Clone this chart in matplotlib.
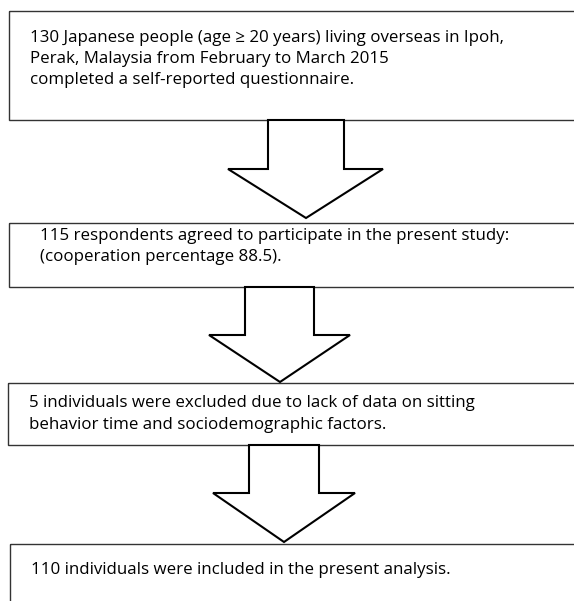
import matplotlib.pyplot as plt
from matplotlib.patches import Rectangle, Polygon

# box texts (one list per box, one entry per line)
box1_lines = ["130 Japanese people (age \u2265 20 years) living overseas in Ipoh,",
              "Perak, Malaysia from February to March 2015",
              "completed a self-reported questionnaire."]
box2_lines = ["115 respondents agreed to participate in the present study:",
              "(cooperation percentage 88.5)."]
box3_lines = ["5 individuals were excluded due to lack of data on sitting",
              "behavior time and sociodemographic factors."]
box4_lines = ["110 individuals were included in the present analysis."]

# layout in pixels (x0, y_top, y_bottom), text x and line centres
boxes = [(9, 11, 120, 30, [38, 59, 80]),
         (9, 223, 287, 40, [236, 257]),
         (8, 383, 445, 29, [403, 425]),
         (10, 544, 610, 31, [570])]
# arrows: shaft x0, x1, top, wing y, wing x0, x1, tip x, tip y
arrows = [(268, 344, 120, 169, 228, 383, 306, 218),
          (245, 314, 287, 335, 209, 350, 280, 382),
          (249, 319, 445, 493, 213, 355, 284, 542)]


def main():
    f = plt.figure(figsize=(5.74, 6.01), dpi=100)
    ax = f.add_axes([0, 0, 1, 1])
    ax.set_xlim(0, 574)
    ax.set_ylim(601, 0)
    ax.axis('off')

    texts = [box1_lines, box2_lines, box3_lines, box4_lines]
    for (x0, yt, yb, tx, ys), lines in zip(boxes, texts):
        ax.add_patch(Rectangle((x0, yt), 600 - x0, yb - yt, fill=False,
                               edgecolor='#333333', linewidth=1.0))
        for y, s in zip(ys, lines):
            ax.text(tx, y, s, fontsize=12.2, family='Open Sans',
                    va='center', ha='left', color='black')

    for sx0, sx1, top, wy, wx0, wx1, tipx, tipy in arrows:
        pts = [(sx0, top), (sx1, top), (sx1, wy), (wx1, wy), (tipx, tipy),
               (wx0, wy), (sx0, wy)]
        ax.add_patch(Polygon(pts, closed=True, facecolor='white',
                             edgecolor='black', linewidth=1.5, joinstyle='miter'))

    f.savefig('out.png', dpi=100)


if __name__ == "__main__":
    main()
